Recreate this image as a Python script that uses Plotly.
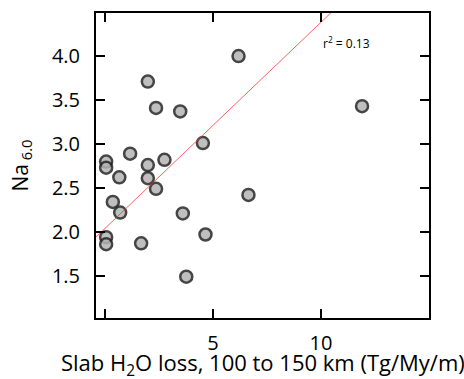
import plotly.graph_objects as go
import numpy as np

# Data
h2o_loss = [0.05, 0.05, 1.16, 0.66, 1.98, 2.75, 1.98, 2.36, 0.36, 0.70, 3.60, 4.65,
            4.53, 0.05, 0.05, 1.67, 3.76, 1.98, 2.36, 3.48, 6.18, 6.64, 11.9]
na60 = [2.80, 2.73, 2.89, 2.62, 2.76, 2.82, 2.61, 2.49, 2.34, 2.22, 2.21, 1.97,
        3.01, 1.94, 1.86, 1.87, 1.49, 3.71, 3.41, 3.37, 4.00, 2.42, 3.43]

fit_intercept = 2.04
fit_slope = 0.2345
r2_text = "r<sup>2</sup> = 0.13"
x_title = "Slab H<sub>2</sub>O loss, 100 to 150 km (Tg/My/m)"
y_title = "Na<sub> 6.0</sub>"

x_range = [-0.42, 15.0]
y_range = [1.02, 4.49]
x_tickvals = [0, 5, 10]
x_ticktext = ["", "5", "10"]
y_tickvals = [1.5, 2.0, 2.5, 3.0, 3.5, 4.0]

fit_x = np.array(x_range)
fit_y = fit_intercept + fit_slope * fit_x

FONT = "Open Sans"

fig = go.Figure()
fig.add_trace(go.Scatter(
    x=h2o_loss, y=na60, mode="markers",
    marker=dict(size=12, color="#b4b4b4", opacity=0.85,
                line=dict(color="#252525", width=2.5)),
    showlegend=False, cliponaxis=False,
))
fig.add_trace(go.Scatter(
    x=fit_x, y=fit_y, mode="lines",
    line=dict(color="rgb(245,60,60)", width=0.8),
    showlegend=False,
))

fig.add_annotation(x=11.17, y=4.15, xref="x", yref="y", text=r2_text,
                   showarrow=False, font=dict(family=FONT, size=12, color="black"))

fig.add_annotation(x=0.5, y=-0.152, xref="paper", yref="paper", text=x_title,
                   showarrow=False, xanchor="center", yanchor="middle", borderpad=0,
                   font=dict(family=FONT, size=22, color="black"))

axis_common = dict(showline=True, linecolor="black", linewidth=2, mirror="ticks",
                   ticks="inside", ticklen=9, tickwidth=2, tickcolor="black",
                   showgrid=False, zeroline=False,
                   tickfont=dict(family=FONT, size=20, color="black"))

fig.update_xaxes(range=x_range, tickvals=x_tickvals, ticktext=x_ticktext,
                 ticklabelstandoff=6,
                 **axis_common)
fig.update_yaxes(range=y_range, tickvals=y_tickvals, tickformat=".1f",
                 title=dict(text=y_title,
                            font=dict(family=FONT, size=21, color="black"), standoff=18),
                 ticklabelstandoff=10,
                 **axis_common)

fig.update_layout(width=464, height=379,
                  margin=dict(l=96, r=35, t=13, b=61),
                  paper_bgcolor="white", plot_bgcolor="white",
                  font=dict(family=FONT, color="black"))

fig.write_html("out.html")
